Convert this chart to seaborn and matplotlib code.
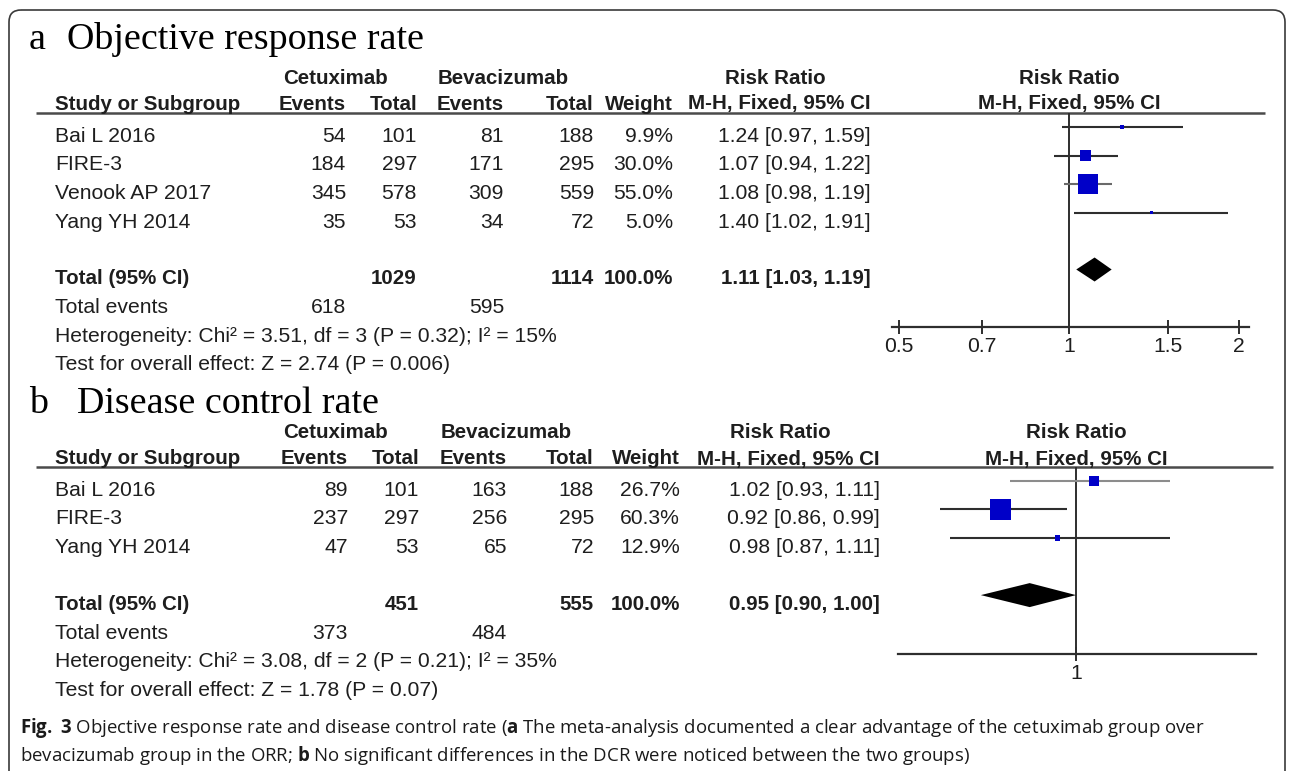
import matplotlib
matplotlib.use("Agg")
import matplotlib.pyplot as plt
import matplotlib.ticker as mticker
from matplotlib.patches import FancyBboxPatch
import seaborn as sns
import pandas as pd

#--------------------------------------- DATA ---------------------------------------#
# a  Objective response rate
studies_a = ["Bai L 2016", "FIRE-3", "Venook AP 2017", "Yang YH 2014"]
cet_events_a = [54, 184, 345, 35]
cet_total_a = [101, 297, 578, 53]
bev_events_a = [81, 171, 309, 34]
bev_total_a = [188, 295, 559, 72]
weight_a = [9.9, 30.0, 55.0, 5.0]
rr_a = [1.24, 1.07, 1.08, 1.40]
lo_a = [0.97, 0.94, 0.98, 1.02]
hi_a = [1.59, 1.22, 1.19, 1.91]
totals_a = [1029, 1114, 100.0]          # cetuximab total, bevacizumab total, weight
total_events_a = [618, 595]
pooled_a = [1.11, 1.03, 1.19]
het_a = "Heterogeneity: Chi\u00b2 = 3.51, df = 3 (P = 0.32); I\u00b2 = 15%"
effect_a = "Test for overall effect: Z = 2.74 (P = 0.006)"
ticks_a = [0.5, 0.7, 1, 1.5, 2]

# b  Disease control rate
studies_b = ["Bai L 2016", "FIRE-3", "Yang YH 2014"]
cet_events_b = [89, 237, 47]
cet_total_b = [101, 297, 53]
bev_events_b = [163, 256, 65]
bev_total_b = [188, 295, 72]
weight_b = [26.7, 60.3, 12.9]
rr_b = [1.02, 0.92, 0.98]
lo_b = [0.93, 0.86, 0.87]
hi_b = [1.11, 0.99, 1.11]
totals_b = [451, 555, 100.0]
total_events_b = [373, 484]
pooled_b = [0.95, 0.90, 1.00]
het_b = "Heterogeneity: Chi\u00b2 = 3.08, df = 2 (P = 0.21); I\u00b2 = 35%"
effect_b = "Test for overall effect: Z = 1.78 (P = 0.07)"
ticks_b = [1]

caption_1 = (r"$\mathbf{Fig.}$ $\mathbf{3}$ Objective response rate and disease control rate "
             r"($\mathbf{a}$ The meta-analysis documented a clear advantage of the cetuximab group over")
caption_2 = (r"bevacizumab group in the ORR; $\mathbf{b}$ No significant differences in the DCR "
             r"were noticed between the two groups)")

#--------------------------------------- STYLE ---------------------------------------#
W, H = 1292, 771
FS = 15.2          # table text, pt
FS_BOLD = 14.8
TITLE_FS = 27.4
OFF = 7.5          # text centre -> baseline, px
TXT = "#1e1e1e"
LINE = "#2e2e2e"
RULE = "#4a4a4a"
BLUE = "#0000c8"
NAME_X = 55
RULE_X0 = 36

LAYOUT_A = dict(label_x=29, title_x=67, title_y=49, head1_y=77, head2_y=102,
                rule_y=113, rule_x1=1265, row0=127, dy=28.5, text_dy=7.5,
                cols=[346, 417, 504, 594, 673, 871], mh_c=779, cet_c=336, bev_c=503, rr_c=775,
                one_x=1069, k=564.7, ax_x=(892, 1249), axis_y=327,
                line_cols=[LINE, LINE, "#6a6a6a", LINE])
LAYOUT_B = dict(label_x=29, title_x=77, title_y=413, head1_y=431, head2_y=457,
                rule_y=467, rule_x1=1273, row0=480.7, dy=28.6, text_dy=7.5,
                cols=[348, 419, 507, 594, 680, 880], mh_c=788, cet_c=336, bev_c=506, rr_c=780,
                one_x=1076, k=2080, ax_x=(898, 1256), axis_y=654,
                line_cols=["#8c8c8c", LINE, LINE])

sns.set_theme(style="white")
plt.rcParams['font.family'] = ['Liberation Sans', 'DejaVu Sans']
plt.rcParams['mathtext.fontset'] = 'custom'
plt.rcParams['mathtext.rm'] = 'Open Sans'
plt.rcParams['mathtext.bf'] = 'Open Sans:bold'

fig = plt.figure(figsize=(W / 100, H / 100), dpi=100)
bg = fig.add_axes([0, 0, 1, 1])
bg.set_xlim(0, W)
bg.set_ylim(H, 0)
bg.axis('off')


def txt(x, y, s, ha='left', bold=False):
    bg.text(x, y + OFF, s, ha=ha, va='baseline', fontsize=FS_BOLD if bold else FS,
            color=TXT, fontweight='bold' if bold else 'normal')


def draw_panel(L, label, title, studies, ce, ct, be, bt, wt, rr, lo, hi,
               totals, tot_events, pooled, het, effect, ticks):
    bg.text(L['label_x'], L['title_y'], label, family='Liberation Serif',
            fontsize=TITLE_FS, va='baseline', color='black')
    bg.text(L['title_x'], L['title_y'], title, family='Liberation Serif',
            fontsize=TITLE_FS, va='baseline', color='black')

    c = L['cols']
    txt(L['cet_c'], L['head1_y'], "Cetuximab", 'center', True)
    txt(L['bev_c'], L['head1_y'], "Bevacizumab", 'center', True)
    txt(L['rr_c'], L['head1_y'], "Risk Ratio", 'center', True)
    txt(L['one_x'], L['head1_y'], "Risk Ratio", 'center', True)
    txt(NAME_X, L['head2_y'], "Study or Subgroup", 'left', True)
    for x, s in zip(c[:5], ["Events", "Total", "Events", "Total", "Weight"]):
        txt(x, L['head2_y'], s, 'right', True)
    txt(L['mh_c'], L['head2_y'], "M-H, Fixed, 95% CI", 'center', True)
    txt(L['one_x'], L['head2_y'], "M-H, Fixed, 95% CI", 'center', True)
    bg.plot([RULE_X0, L['rule_x1']], [L['rule_y']] * 2, color=RULE, lw=1.8,
            solid_capstyle='butt')

    def ty(r):
        return L['row0'] + r * L['dy'] + L['text_dy']

    n = len(studies)
    for i in range(n):
        y = ty(i)
        txt(NAME_X, y, studies[i])
        for x, v in zip(c[:4], [ce[i], ct[i], be[i], bt[i]]):
            txt(x, y, str(v), 'right')
        txt(c[4], y, f"{wt[i]:.1f}%", 'right')
        txt(c[5], y, f"{rr[i]:.2f} [{lo[i]:.2f}, {hi[i]:.2f}]", 'right')

    rt = n + 1
    y = ty(rt)
    txt(NAME_X, y, "Total (95% CI)", 'left', True)
    txt(c[1], y, str(totals[0]), 'right', True)
    txt(c[3], y, str(totals[1]), 'right', True)
    txt(c[4], y, f"{totals[2]:.1f}%", 'right', True)
    txt(c[5], y, f"{pooled[0]:.2f} [{pooled[1]:.2f}, {pooled[2]:.2f}]", 'right', True)
    y = ty(rt + 1)
    txt(NAME_X, y, "Total events")
    txt(c[0], y, str(tot_events[0]), 'right')
    txt(c[2], y, str(tot_events[1]), 'right')
    txt(NAME_X, ty(rt + 2), het)
    txt(NAME_X, ty(rt + 3), effect)

    # forest plot
    x0, x1 = L['ax_x']
    top, bot = L['rule_y'], L['axis_y']
    fx = fig.add_axes([x0 / W, 1 - bot / H, (x1 - x0) / W, (bot - top) / H])
    fx.set_facecolor('none')
    fx.set_xscale('log')
    fx.set_xlim(10 ** ((x0 - L['one_x']) / L['k']), 10 ** ((x1 - L['one_x']) / L['k']))
    fx.set_ylim((bot - L['row0']) / L['dy'], (top - L['row0']) / L['dy'])

    fx.axvline(1, color=LINE, lw=1.4, zorder=1)
    rows = list(range(n))
    fx.hlines(rows, lo, hi, colors=L['line_cols'], lw=1.5, zorder=2)
    df = pd.DataFrame({'rr': rr, 'row': rows, 'w': wt})
    side_pt = [(0.33 * w + 1.2) * 0.72 for w in wt]
    sns.scatterplot(data=df, x='rr', y='row', marker='s', s=[v ** 2 for v in side_pt],
                    color=BLUE, linewidth=0, legend=False, ax=fx, zorder=3)
    h = 12 / L['dy']
    fx.fill([pooled[1], pooled[0], pooled[2], pooled[0]], [rt, rt - h, rt, rt + h],
            color='black', lw=0, zorder=3)

    fx.set_xticks(ticks)
    fx.set_xticklabels([f"{t:g}" for t in ticks])
    fx.xaxis.set_minor_locator(mticker.NullLocator())
    fx.tick_params(axis='x', bottom=True, direction='inout', length=10, width=1.4,
                   color=LINE, labelsize=FS, labelcolor=TXT, pad=2)
    fx.set_yticks([])
    fx.set_xlabel("")
    fx.set_ylabel("")
    for s in ['top', 'left', 'right']:
        fx.spines[s].set_visible(False)
    fx.spines['bottom'].set_color(LINE)
    fx.spines['bottom'].set_linewidth(1.6)


draw_panel(LAYOUT_A, "a", "Objective response rate", studies_a, cet_events_a, cet_total_a,
           bev_events_a, bev_total_a, weight_a, rr_a, lo_a, hi_a, totals_a,
           total_events_a, pooled_a, het_a, effect_a, ticks_a)
draw_panel(LAYOUT_B, "b", "Disease control rate", studies_b, cet_events_b, cet_total_b,
           bev_events_b, bev_total_b, weight_b, rr_b, lo_b, hi_b, totals_b,
           total_events_b, pooled_b, het_b, effect_b, ticks_b)

# outer frame
bg.add_patch(FancyBboxPatch((9, 10), 1276, 800, boxstyle="round,pad=0,rounding_size=12",
                            fill=False, ec="#3a3a3a", lw=1.2, transform=bg.transData))

# caption, scaled so the first line ends where the reference does
CAP_X, CAP_RIGHT = 20, 1205
c1 = bg.text(CAP_X, 733, caption_1, family='Open Sans', fontsize=12, color='#1a1a1a',
             va='baseline')
w1 = c1.get_window_extent(fig.canvas.get_renderer()).width
cap_fs = 12 * (CAP_RIGHT - CAP_X) / w1
c1.set_fontsize(cap_fs)
bg.text(CAP_X, 761, caption_2, family='Open Sans', fontsize=cap_fs, color='#1a1a1a',
        va='baseline')

fig.savefig("out.png", dpi=100)
